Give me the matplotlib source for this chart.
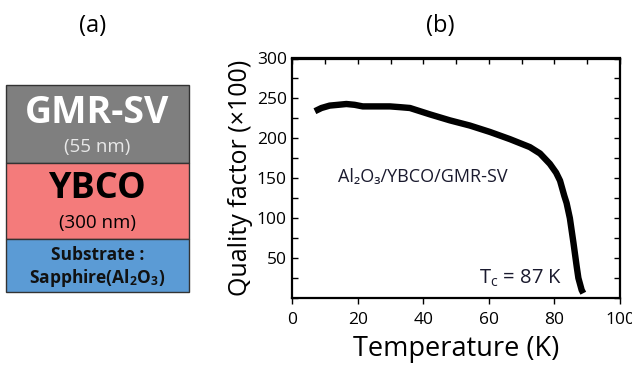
import matplotlib
matplotlib.use("Agg")
import matplotlib.pyplot as plt
from matplotlib.patches import Rectangle
from matplotlib.ticker import MultipleLocator, FixedLocator

plt.rcParams['font.family'] = ['Open Sans', 'DejaVu Sans']
plt.rcParams['mathtext.fontset'] = 'custom'
plt.rcParams['mathtext.rm'] = 'Open Sans'
plt.rcParams['mathtext.it'] = 'Open Sans'
plt.rcParams['mathtext.bf'] = 'Open Sans:bold'

# ---- data ----
temperature = [6.9, 8.9, 11.4, 14.0, 16.5, 19.0, 21.5, 26.6, 29.8, 33.0, 35.9,
               42.0, 48.1, 54.2, 60.3, 66.4, 72.5, 75.6, 78.6, 80.5, 81.7,
               83.0, 83.7, 84.7, 85.8, 86.8, 87.3, 88.3, 88.8]
quality = [234, 238, 241, 242, 243, 242, 240, 240, 240, 239, 238,
           230, 222.5, 216, 208, 199, 189, 181, 168, 157, 147,
           128, 119, 100, 69, 39, 25, 10, 6]

xticks = [0, 20, 40, 60, 80, 100]
yticks = [50, 100, 150, 200, 250, 300]

layers = ["GMR-SV", "YBCO", "Substrate :", "Sapphire(Al$_\\mathbf{2}$O$_\\mathbf{3}$)"]
thickness = ["(55 nm)", "(300 nm)"]
layer_colors = ["#7f7f7f", "#f47b7b", "#5b9bd5"]

W, H = 632, 374
fig = plt.figure(figsize=(W / 100, H / 100), dpi=100)

# ---- panel (b) ----
ax = fig.add_axes([292.3 / W, 1 - 298 / H, (620 - 292.3) / W, (298 - 58.5) / H])
ax.plot(temperature, quality, color='black', lw=4.6, solid_capstyle='butt',
        solid_joinstyle='round')
ax.set_xlim(0, 100)
ax.set_ylim(0, 300)
ax.xaxis.set_major_locator(FixedLocator(xticks))
ax.yaxis.set_major_locator(FixedLocator(yticks))
ax.yaxis.set_minor_locator(MultipleLocator(25))
ax.set_xticklabels([str(t) for t in xticks])
ax.set_yticklabels([str(t) for t in yticks])
for s in ax.spines.values():
    s.set_linewidth(1.6)
ax.tick_params(axis='y', which='both', direction='in', right=True, length=4, width=1,
               labelsize=12.5, pad=4)
ax.tick_params(axis='x', which='major', direction='out', length=4, width=1,
               labelsize=12.5, pad=6)
axt = ax.secondary_xaxis('top')
axt.xaxis.set_major_locator(MultipleLocator(10))
axt.tick_params(direction='in', length=4, width=1, labeltop=False)
axt.spines['top'].set_linewidth(1.6)

ax.set_xlabel("Temperature (K)", fontsize=19.5, labelpad=5)
ax.set_ylabel("Quality factor (×100)", fontsize=18, labelpad=3)

ax.text(13.9, 152, "Al₂O₃/YBCO/GMR-SV", fontsize=13, color='#1a1a2e',
        va='center', ha='left')
ax.text(57, 25, r"T$_\mathrm{c}$ = 87 K", fontsize=14.5, color='#1a1a2e',
        va='center', ha='left')

# ---- panel (a) ----
ov = fig.add_axes([0, 0, 1, 1], facecolor='none')
ov.set_xlim(0, W)
ov.set_ylim(H, 0)
ov.axis('off')

ov.text(93, 26, "(a)", fontsize=17, ha='center', va='center')
ov.text(440, 26, "(b)", fontsize=17, ha='center', va='center')

bounds = [85, 162.7, 239.3, 291.7]
x0, x1 = 5.5, 189
for i, c in enumerate(layer_colors):
    ov.add_patch(Rectangle((x0, bounds[i]), x1 - x0, bounds[i + 1] - bounds[i],
                           facecolor=c, edgecolor='#333333', lw=1))
cx = (x0 + x1) / 2
ov.text(cx, 113, layers[0], fontsize=27, fontweight='bold', color='white',
        ha='center', va='center')
ov.text(cx, 147, thickness[0], fontsize=13.5, color='#e8e8e8', ha='center', va='center')
ov.text(cx, 189, layers[1], fontsize=26, fontweight='bold', color='black',
        ha='center', va='center')
ov.text(cx, 223, thickness[1], fontsize=13.5, color='black', ha='center', va='center')
ov.text(cx, 255, layers[2], fontsize=12.5, fontweight='bold', color='#111111',
        ha='center', va='center')
ov.text(cx, 278, layers[3], fontsize=12.5, fontweight='bold', color='#111111',
        ha='center', va='center')

fig.savefig("out.png", dpi=100)
